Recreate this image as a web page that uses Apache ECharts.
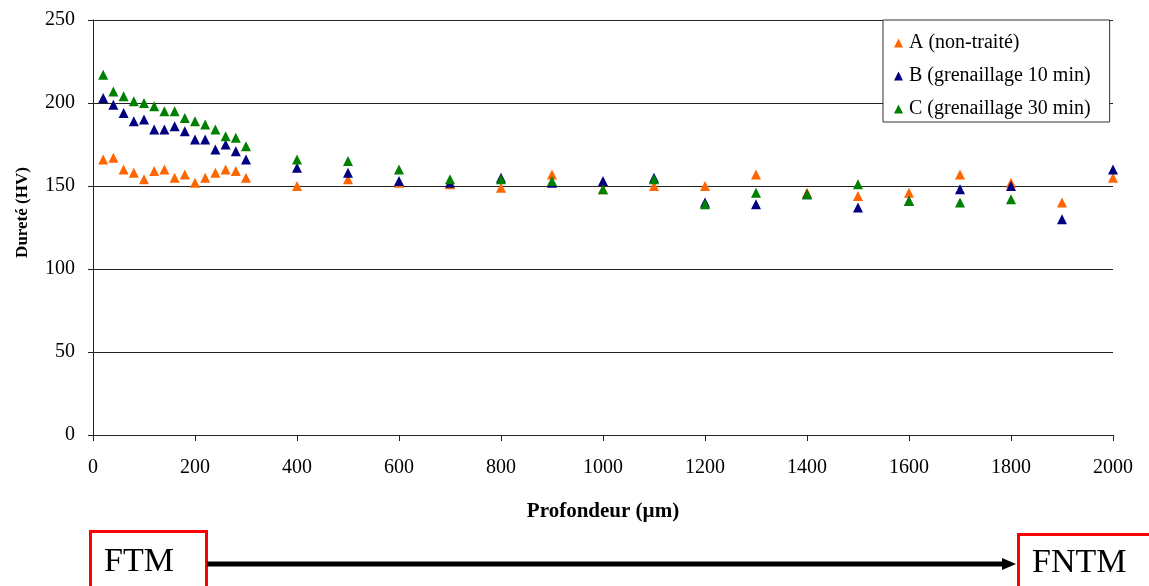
<!DOCTYPE html>
<html>
<head>
<meta charset="utf-8">
<script src="https://cdn.jsdelivr.net/npm/echarts@6/dist/echarts.min.js"></script>
<style>
html,body{margin:0;padding:0;background:#fff;}
#chart{width:1149px;height:586px;}
</style>
</head>
<body>
<div id="chart"></div>
<script>
const depth = [20,40,60,80,100,120,140,160,180,200,220,240,260,280,300,400,500,600,700,800,900,1000,1100,1200,1300,1400,1500,1600,1700,1800,1900,2000];
const seriesA = [166,167,160,158,154,159,160,155,157,152,155,158,160,159,155,150,154,152,151,149,157,148,150,150,157,146,144,146,157,152,140,155];
const seriesB = [203,199,194,189,190,184,184,186,183,178,178,172,175,171,166,161,158,153,152,155,152,153,155,140,139,145,137,141,148,150,130,160];
const seriesC = [217,207,204,201,200,198,195,195,191,189,187,184,180,179,174,166,165,160,154,154,153,148,154,139,146,145,151,141,140,142,null,null];
const names = ['A (non-traité)','B (grenaillage 10 min)','C (grenaillage 30 min)'];
const colors = ['#FF6600','#000080','#008000'];
const xTicks = {min:0,max:2000,interval:200};
const yTicks = {min:0,max:250,interval:50};

function pairs(arr){ return depth.map((d,i)=>[d,arr[i]]).filter(p=>p[1]!=null); }

const chart = echarts.init(document.getElementById('chart'));
const font = '"Liberation Serif","Times New Roman",serif';
chart.setOption({
  animation:false,
  textStyle:{fontFamily:font},
  grid:{left:93,right:36,top:20,bottom:151,containLabel:false},
  legend:{
    orient:'vertical', left:883, top:20,
    padding:[13,19,3,11], itemGap:13,
    itemWidth:9, itemHeight:9,
    backgroundColor:'#fff', borderColor:'#333', borderWidth:1,
    textStyle:{fontFamily:font,fontSize:20,color:'#000',padding:[0,0,0,1]},
    data:names.map((n,i)=>({name:n,icon:'triangle',itemStyle:{color:colors[i],opacity:1}}))
  },
  xAxis:{
    type:'value', min:xTicks.min, max:xTicks.max, interval:xTicks.interval,
    name:'Profondeur (µm)', nameLocation:'middle', nameGap:66,
    nameTextStyle:{fontFamily:font,fontSize:21,fontWeight:'bold',color:'#000'},
    axisLine:{show:true,onZero:false,lineStyle:{color:'#222',width:1}},
    axisTick:{show:true,length:6,lineStyle:{color:'#222'}},
    axisLabel:{fontFamily:font,fontSize:20,color:'#000',margin:23,formatter:v=>String(v)},
    splitLine:{show:false}
  },
  yAxis:{
    type:'value', min:yTicks.min, max:yTicks.max, interval:yTicks.interval,
    name:'Dureté (HV)', nameLocation:'middle', nameGap:62,
    nameTextStyle:{fontFamily:font,fontSize:17,fontWeight:'bold',color:'#000',padding:[0,0,0,30]},
    axisLine:{show:true,lineStyle:{color:'#222',width:1}},
    axisTick:{show:true,length:5,lineStyle:{color:'#222'}},
    axisLabel:{fontFamily:font,fontSize:20,color:'#000',margin:18,formatter:v=>String(v)},
    splitLine:{show:true,lineStyle:{color:'#222',width:1}}
  },
  series:[seriesA,seriesB,seriesC].map((s,i)=>({
    name:names[i], type:'scatter', symbol:'triangle', symbolSize:10,
    itemStyle:{color:colors[i],opacity:1}, data:pairs(s), z:2+i
  })),
  graphic:[
    {type:'rect',left:89,top:530,shape:{width:116,height:70},style:{fill:'#fff',stroke:'#ff0000',lineWidth:3}},
    {type:'text',left:104,top:545,style:{text:'FTM',font:'34px '+font,fill:'#000'}},
    {type:'line',shape:{x1:207,y1:564,x2:1004,y2:564},style:{stroke:'#000',lineWidth:5}},
    {type:'polygon',shape:{points:[[1002,558],[1016,564],[1002,570]]},style:{fill:'#000'}},
    {type:'rect',left:1017,top:533,shape:{width:140,height:70},style:{fill:'#fff',stroke:'#ff0000',lineWidth:3}},
    {type:'text',left:1032,top:546,style:{text:'FNTM',font:'34px '+font,fill:'#000'}}
  ]
});
</script>
</body>
</html>
